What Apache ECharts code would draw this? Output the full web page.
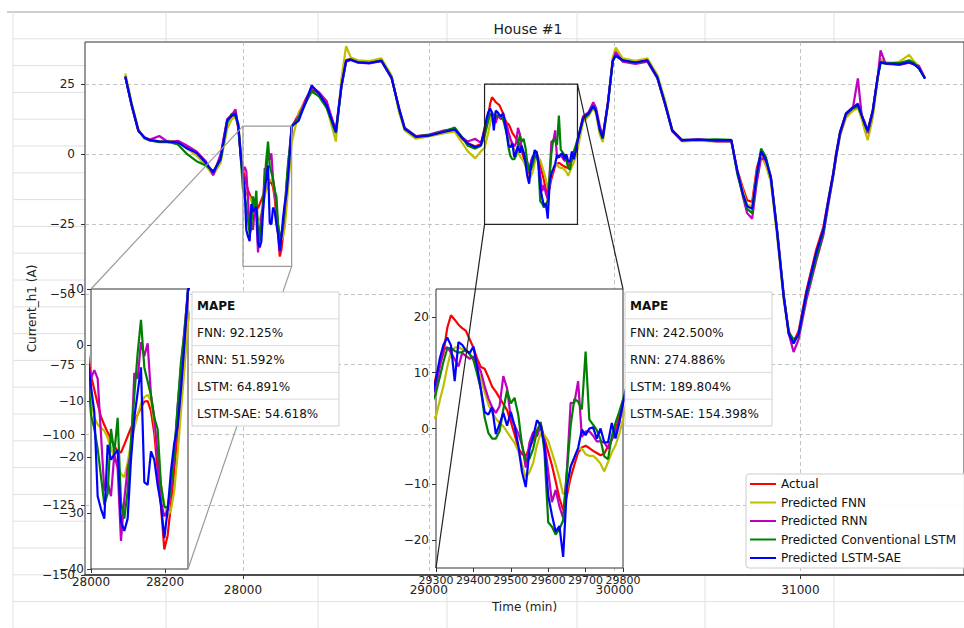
<!DOCTYPE html>
<html>
<head>
<meta charset="utf-8">
<title>House #1</title>
<script src="https://cdn.jsdelivr.net/npm/echarts@6/dist/echarts.min.js"></script>
<style>
  html, body { margin: 0; padding: 0; background: #fff; }
  #chart { width: 964px; height: 628px; }
</style>
</head>
<body>
<div id="chart"></div>
<script>
// Sample times (minutes): coarse outside the zoomed windows, denser inside them.
const minutes = [
  27367, 27400, 27437, 27470, 27500, 27550, 27600, 27650, 27700, 27750, 27800, 27840, 27880, 27915, 27940, 27960, 27975, 27990,
  28000, 28009, 28018, 28027, 28036, 28045, 28054, 28063, 28072, 28081, 28090, 28099, 28108, 28117, 28126, 28135, 28144, 28153,
  28162, 28171, 28180, 28189, 28198, 28207, 28216, 28225, 28234, 28243, 28252, 28262,
  28300, 28340, 28370, 28410, 28450, 28500, 28530, 28555, 28580, 28620, 28680, 28745, 28800, 28840, 28870, 28930, 29000, 29085,
  29140, 29180, 29210, 29250, 29280,
  29300, 29310, 29320, 29330, 29340, 29350, 29360, 29370, 29380, 29390, 29400, 29410, 29420, 29430, 29440, 29450, 29460, 29470,
  29480, 29490, 29500, 29510, 29520, 29530, 29540, 29550, 29560, 29570, 29580, 29590, 29600, 29610, 29620, 29630, 29640, 29650,
  29660, 29670, 29680, 29690, 29700, 29710, 29720, 29730, 29740, 29750, 29760, 29770, 29780, 29790, 29800,
  29830, 29860, 29885, 29900, 29920, 29936, 29963, 29990, 30006, 30043, 30112, 30176, 30230, 30272, 30310, 30362, 30450, 30550,
  30628, 30660, 30690, 30713, 30740, 30765, 30788, 30814, 30841, 30873, 30910, 30937, 30963, 30990, 31032, 31085, 31123, 31150,
  31176, 31192, 31213, 31245, 31282, 31309, 31330, 31346, 31362, 31389, 31415, 31431, 31458, 31500, 31532, 31585, 31610, 31638,
  31670
];

// Current (A) per series, aligned with `minutes`.
const actual = [
  27.9, 18, 8.6, 6, 5, 4.6, 4.5, 4.3, 2.5, 0, -3.5, -6.8, -1, 12, 13.5, 14, 9.6, -1,
  -5.5, -8, -10.5, -12.8, -14.3, -15.6, -16.8, -18, -19, -19.2, -17.8, -16.3, -14.8, -13.6, -12.4, -11.2, -10.1, -10,
  -11.8, -15.8, -22.5, -28.8, -36.5, -34, -28.5, -22.5, -15.5, -8, -1.5, 9.6,
  14.3, 20, 23, 21.8, 18, 8.6, 25, 33.6, 34, 33, 32.8, 33.6, 27.5, 16, 9, 6, 6.5, 7.9, 8.6, 5.5, 3.9, 2.8, 3.5,
  9.3, 11.5, 13.5, 18, 20.3, 19.5, 18.6, 18, 17.5, 16,
  14.5, 12.5, 11, 10.7, 9.2, 7.5, 6.6, 5.5, 4.4, 3.3,
  1.2, -1, -3.5, -4.6, -4.9, -3.5, -2, -0.3, 0.8, -1.8,
  -4.2, -6.6, -9.5, -12.5, -14.6, -12, -8.8, -6.5, -4.3, -3.4,
  -3.1, -3.5, -4, -4.4, -4.8, -4.5, -3.2, -2, -0.2, 2,
  4.6,
  12.5, 14.6, 17.5, 15.7, 9, 6, 18, 33.6, 35.4, 33.6,
  32.8, 33.6, 27.5, 18, 8.6, 5, 5.2, 4.8, 5, -5.7,
  -12, -16.4, -17, -5, 0.4, -3, -9, -27, -51, -63,
  -67, -63, -48.6, -34, -26, -16, -6.8, 0.4, 8, 14.6,
  16.8, 18, 14, 11, 8.6, 15.7, 27.5, 32.9, 32.5, 32.3,
  32.1, 32.9, 32.2, 30.7, 27
];
const predFNN = [
  28.8, 18.5, 9, 5.5, 4.8, 4.5, 4.8, 4.6, 2, -0.5, -4, -7.5, -3, 9, 12.5, 13.2, 11, 0,
  -10, -13, -14.2, -14.8, -15.3, -16.5, -18.5, -20, -21.5, -23, -23.6, -21, -17.5, -14.8, -12.5, -10.5, -9.3, -8.9,
  -10, -14, -19.5, -25, -28.5, -30.5, -29.5, -26, -19.5, -12, -4.5, 4,
  15, 19, 22, 21, 17, 4.5, 27, 38.5, 34.5, 33.5, 33.2, 34.2, 28, 15, 8.5, 5.5, 6.3, 7.5, 8, 4, 1, -1.5, 1,
  2.2, 5, 7.6, 11, 13.8, 14.5, 14.6, 14.2, 13.8, 13.5,
  12.4, 11, 8.8, 6.6, 4.3, 2.8, 1.8, 1, 0.4, -0.6,
  -1.6, -2.6, -4, -6.5, -8.8, -7.8, -6.1, -3, -0.8, -1.2,
  -2.2, -4.3, -6.5, -8.9, -11.8, -11, -7, -5.2, -3.7, -3.6,
  -4.6, -4.9, -4.9, -5.5, -6.3, -7.7, -6, -4.3, -3, -1,
  1.6,
  11.5, 13.5, 16.5, 14.5, 7, 4.3, 17, 34.5, 38, 34.2,
  33.3, 34.2, 28.3, 19, 8.2, 4.6, 4.8, 4.5, 4.6, -6.5,
  -13, -18, -18.5, -6.5, -0.5, -4, -10, -28.5, -52, -64,
  -67.5, -64, -50, -35.5, -27.5, -17.5, -8, -1, 6.5, 13,
  15.5, 16.5, 12.5, 8.5, 5, 13, 26.5, 34, 32.8, 32.5,
  33, 35.4, 33.2, 31.3, 27.3
];
const predRNN = [
  27.5, 17.5, 8.2, 6, 5.2, 6.5, 4.2, 4.8, 3, 1, -2.5, -7.5, 0, 12.5, 14, 16, 9, -2,
  -6, -4.5, -6, -16, -26, -24.5, -27, -19.5, -22, -35, -27.5, -22, -19.3, -5, -6, 0.5, -2, 0.3,
  -9, -13, -20, -28, -30.6, -29.5, -26, -20, -11, -4, 2.5, 9.8,
  13.5, 19.5, 24, 22, 19, 8, 24, 33, 33.6, 32.6, 32.4, 33.2, 27, 16.5, 9.5, 6.5, 7, 8.5, 9, 6, 4.5, 5.5, 4,
  7.6, 11, 14.1, 14.6, 13.6, 12.4, 11.1, 13.5, 13, 12.5,
  12.9, 11.6, 10.2, 7.6, 5.4, 3.8, 2.8, 4, 9.4, 7.2,
  1.8, 0.6, -0.9, -2.9, -7, -2.5, -0.6, -1.4, 0.6, -2.5,
  -7.6, -13.2, -11, -14, -16, -7.5, 4.6, 4.6, 8.5, -1.5,
  -0.5, -0.5, -1.3, -2.3, -2.3, -2.5, -3.6, -2, -0.8, 1,
  4.6,
  13.5, 15, 18.5, 16.5, 10, 6.5, 17.5, 33, 36.5, 33,
  32.2, 33, 27, 17.5, 8.2, 4.7, 5.3, 4.6, 4.6, -6,
  -15, -21, -23, -10, -1.5, -2, -8, -26, -50, -64,
  -70.5, -66, -52, -38, -29, -18, -8, -1, 7, 14,
  16.5, 27, 13.5, 11.5, 7.5, 15, 27, 37, 32.2, 32,
  31.8, 32.6, 32, 31.5, 27
];
const predLSTM = [
  27.6, 17.8, 8.4, 5.8, 4.9, 4.3, 4.4, 3.5, 0, -2.5, -4, -6, -2, 11, 14.5, 13.5, 10, -3,
  -12.5, -15, -18.5, -23.5, -28.5, -26.5, -15, -19.3, -13, -28, -31, -26, -17, -9, -1.5, 4.5, -4, -6.5,
  -9, -13, -15, -25, -28.9, -29, -25, -19, -11, -3, 2, 9.8,
  13, 18.5, 22.5, 20.5, 16.5, 7.5, 24, 33.2, 33.8, 32.8, 32.6, 33.4, 27.3, 16, 9, 6.4, 6.8, 8.2, 9.5, 6, 3, 2, 3,
  6.4, 9.2, 12, 14.3, 14.4, 13.9, 13.6, 13.7, 14.1, 13.3,
  12.3, 9.8, 7, 2, -0.8, -1.8, -1.8, -0.5, 3.4, 6.8,
  4.5, 5.5, 2.4, -3, -5.8, -5.4, -3.6, -0.5, 1.2, -4.2,
  -16.8, -17.6, -19, -18, -16.5, -7.8, 0.5, 5.3, 4.8, 3.4,
  13.8, 1.6, 0.7, -0.3, -2, -5, -5.5, -1.4, 1, 3,
  5.2,
  12.5, 14.2, 17, 15.2, 8.5, 5.5, 17.5, 33.2, 35, 33.4,
  32.6, 33.4, 27.3, 17.8, 8.4, 5.2, 5.1, 5.3, 5.1, -7,
  -14.5, -19.5, -21, -8, 2, -1, -8.5, -26.5, -50.5, -63.5,
  -66, -64.5, -50.5, -37, -28, -17, -7.5, -0.5, 7.5, 14.3,
  16.3, 17, 13.8, 10.5, 8, 15.2, 27, 32.6, 32.3, 32.6,
  32.5, 33.5, 32.6, 30.5, 27
];
const predSAE = [
  27.7, 17.9, 8.5, 5.9, 5, 4.6, 4.5, 4.2, 2, 0.5, -3, -6.5, -1.5, 12, 13.8, 14.5, 10.5, -2,
  -7.5, -12, -27, -29.3, -31, -17.8, -20.5, -19.5, -18.8, -31.5, -33.2, -31, -20.5, -13, -8.5, -4, -24.5, -25,
  -19, -20.5, -25, -28.5, -34.5, -29.5, -22.5, -17.5, -14.5, -8, 0, 10,
  12, 19, 24.5, 21.5, 17.5, 8, 24.5, 33.3, 33.7, 32.7, 32.5, 33.3, 27.2, 16.2, 9.2, 6.2, 6.6, 8, 8.8, 5.8, 3.8, 2.5, 3.2,
  8.8, 12.5, 15, 16.3, 14.9, 8.5, 15.5, 15, 14, 13.5,
  14.7, 11, 7, 3, 2.5, 3.8, -1, 0.8, 2.8, 0.5,
  3, 0.5, -3, -7.8, -10.5, -3.8, -1.4, 1.5, 0.5, -3,
  -12, -15.5, -18.5, -17.5, -23, -10.5, -6.8, -5.2, -3.5, -0.2,
  -1.2, 0, 0.2, -1.8, 0, -2.5, -2.5, 1, -1.8, 1,
  4.6,
  12.8, 14.6, 17.2, 15.5, 8.8, 5.8, 17.8, 33.4, 35.2, 33.5,
  32.7, 33.5, 27.4, 17.9, 8.5, 5, 5.2, 4.9, 5, -6,
  -14, -18.5, -19.5, -7, 1, -2, -8.5, -27, -51, -64,
  -67.5, -64, -49.5, -35, -27, -16.5, -7, 0, 7.8, 14.5,
  16.6, 17.8, 13.8, 10.8, 8.4, 15.5, 27.3, 32.8, 32.4, 32.2,
  32, 32.8, 32.1, 30.6, 27
];

const seriesNames = ['Actual', 'Predicted FNN', 'Predicted RNN', 'Predicted Conventional LSTM', 'Predicted LSTM-SAE'];
const seriesColors = ['#ff0000', '#bfbf00', '#bf00bf', '#008000', '#0000ff'];

// Tick positions
const mainXTicks = [28000, 29000, 30000, 31000];
const mainYTicks = [-150, -125, -100, -75, -50, -25, 0, 25];
const zoomAXTicks = [28000, 28200];
const zoomAYTicks = [-40, -30, -20, -10, 0, 10];
const zoomBXTicks = [29300, 29400, 29500, 29600, 29700, 29800];
const zoomBYTicks = [-20, -10, 0, 10, 20];

// Zoomed windows (time range, current range)
const zoomAWindow = { x: [28000, 28262], y: [-40, 10] };
const zoomBWindow = { x: [29300, 29800], y: [-25, 25] };

// MAPE per model inside each window
const mapeModels = ['FNN', 'RNN', 'LSTM', 'LSTM-SAE'];
const mapeWindowA = [92.125, 51.592, 64.891, 54.618];
const mapeWindowB = [242.500, 274.886, 189.804, 154.398];

const FONT = '"DejaVu Sans", sans-serif';
const TEXT = '#222';
const signed = v => String(v).replace('-', '\u2212');

function valueAxis(gridIndex, min, max, ticks, margin, z, extra, labelSize) {
  return Object.assign({
    type: 'value', gridIndex, min, max, z,
    axisLine: { show: false, onZero: false },
    axisTick: { show: true, customValues: ticks, length: 4, lineStyle: { color: '#333', width: 1 } },
    axisLabel: {
      customValues: ticks, interval: 0, margin, formatter: signed, showMinLabel: true, showMaxLabel: true,
      hideOverlap: false, fontFamily: FONT, fontSize: labelSize || 12, color: TEXT
    },
    splitLine: { show: false }
  }, extra || {});
}

const gridDash = { show: true, lineStyle: { type: [4, 3], color: '#b4b4b4', width: 0.8 } };

const xAxes = [
  valueAxis(0, 27150, 31880, mainXTicks, 9, 1, {
    axisLine: { show: true, onZero: false, lineStyle: { color: '#333', width: 1.5 } },
    splitLine: gridDash,
    name: 'Time (min)', nameLocation: 'middle', nameGap: 26, nameMoveOverlap: false,
    nameTextStyle: { fontFamily: FONT, fontSize: 12, color: TEXT }
  }),
  valueAxis(1, zoomAWindow.x[0], zoomAWindow.x[1], zoomAXTicks, 7, 6),
  valueAxis(2, zoomBWindow.x[0], zoomBWindow.x[1], zoomBXTicks, 7, 6, null, 11)
];
const yAxes = [
  valueAxis(0, -150, 40, mainYTicks, 10, 1, {
    splitLine: gridDash,
    name: 'Current_h1 (A)', nameLocation: 'middle', nameGap: 47, nameRotate: 90, nameMoveOverlap: false,
    nameTextStyle: { fontFamily: FONT, fontSize: 12, color: TEXT }
  }),
  valueAxis(1, zoomAWindow.y[0], zoomAWindow.y[1], zoomAYTicks, 7, 6),
  valueAxis(2, zoomBWindow.y[0], zoomBWindow.y[1], zoomBYTicks, 7, 6)
];

const seriesValues = [actual, predFNN, predRNN, predLSTM, predSAE];
const series = [];
[0, 1, 2].forEach(g => {
  seriesValues.forEach((vals, k) => {
    series.push({
      type: 'line', name: seriesNames[k], xAxisIndex: g, yAxisIndex: g,
      data: minutes.map((t, i) => [t, vals[i]]),
      symbol: 'none', showSymbol: false, clip: true, silent: true, animation: false,
      lineStyle: { color: seriesColors[k], width: 2.2 },
      itemStyle: { color: seriesColors[k] },
      z: g === 0 ? 2 : 6
    });
  });
});

// Worksheet cell lines behind the figure
const sheetEls = [];
const sheetCols = [13, 166, 318, 447, 577, 705, 834];
for (let k = 0; k < 24; k++) {
  const y = 12 + 26.8 * k;
  sheetEls.push({ type: 'line', z: -10, silent: true,
    shape: { x1: k === 0 ? 7 : 13, y1: y, x2: 964, y2: y },
    style: { stroke: k === 0 ? '#cfcfcf' : '#e0e0e0', lineWidth: k === 0 ? 2 : 1 } });
}
sheetCols.forEach(x => sheetEls.push({ type: 'line', z: -10, silent: true,
  shape: { x1: x, y1: 12, x2: x, y2: 628 }, style: { stroke: '#e0e0e0', lineWidth: 1 } }));

function mapeTable(x, y, values) {
  const rowH = 26.8, w = 147;
  const rows = ['MAPE'].concat(mapeModels.map((m, i) => m + ': ' + values[i].toFixed(3) + '%'));
  const els = [{ type: 'rect', z: 20, silent: true,
    shape: { x, y, width: w, height: rowH * rows.length },
    style: { fill: '#fff', stroke: '#cfcfcf', lineWidth: 1 } }];
  rows.forEach((t, i) => {
    if (i > 0) {
      els.push({ type: 'line', z: 21, silent: true,
        shape: { x1: x, y1: y + rowH * i, x2: x + w, y2: y + rowH * i },
        style: { stroke: '#dadada', lineWidth: 1 } });
    }
    els.push({ type: 'text', z: 22, silent: true, x: x + 5, y: y + rowH * (i + 0.5) + 1,
      style: { text: t, fontFamily: FONT, fontSize: 12, fontWeight: i === 0 ? 'bold' : 'normal',
        fill: '#111', textVerticalAlign: 'middle', verticalAlign: 'middle' } });
  });
  return els;
}

const baseGraphics = sheetEls.concat(
  [{ type: 'text', z: 1, silent: true, x: 528, y: 29,
     style: { text: 'House #1', fontFamily: FONT, fontSize: 14, fill: TEXT,
       textAlign: 'center', align: 'center', textVerticalAlign: 'middle', verticalAlign: 'middle' } }],
  mapeTable(192, 292, mapeWindowA),
  mapeTable(625, 292, mapeWindowB)
);

const option = {
  backgroundColor: '#fff',
  animation: false,
  grid: [
    { left: 85, top: 42, width: 886, height: 533, show: true, backgroundColor: '#fff', borderColor: '#333', borderWidth: 1, z: 0 },
    { left: 91, top: 289, width: 97, height: 280, show: true, backgroundColor: '#fff', borderColor: '#333', borderWidth: 1, z: 5 },
    { left: 436, top: 289, width: 187, height: 279, show: true, backgroundColor: '#fff', borderColor: '#333', borderWidth: 1, z: 5 }
  ],
  xAxis: xAxes,
  yAxis: yAxes,
  legend: {
    data: seriesNames, orient: 'vertical', left: 746, top: 474,
    icon: 'rect', itemWidth: 26, itemHeight: 2, itemGap: 6.5, padding: [4, 14, 4, 4],
    backgroundColor: 'rgba(255,255,255,0.9)', borderColor: '#cccccc', borderWidth: 1, borderRadius: 3,
    textStyle: { fontFamily: FONT, fontSize: 12, color: '#111' },
    selectedMode: false, z: 30
  },
  graphic: { elements: baseGraphics },
  series
};

const chart = echarts.init(document.getElementById('chart'), null, { renderer: 'svg' });
chart.setOption(option);

// Outline each zoomed window on the main axes and link it to its inset.
function windowMarks(win, insetGrid, color, corners) {
  const main = (x, y) => chart.convertToPixel({ gridIndex: 0 }, [x, y]);
  const inset = (x, y) => chart.convertToPixel({ gridIndex: insetGrid }, [x, y]);
  const tl = main(win.x[0], win.y[1]), br = main(win.x[1], win.y[0]);
  const els = [{ type: 'rect', z: 8, silent: true,
    shape: { x: tl[0], y: tl[1], width: br[0] - tl[0], height: br[1] - tl[1] },
    style: { fill: 'none', stroke: color, lineWidth: 1.2 } }];
  corners.forEach(([cx, cy]) => {
    const a = main(win.x[cx], win.y[cy]);
    const b = inset(win.x[cx], win.y[cy]);
    els.push({ type: 'line', z: 8, silent: true,
      shape: { x1: a[0], y1: a[1], x2: b[0], y2: b[1] },
      style: { stroke: color, lineWidth: 1.2 } });
  });
  return els;
}

const linkEls = windowMarks(zoomAWindow, 1, '#9a9a9a', [[0, 1], [1, 0]])
  .concat(windowMarks(zoomBWindow, 2, '#222222', [[0, 0], [1, 1]]));
option.graphic = { elements: baseGraphics.concat(linkEls) };
chart.setOption(option, true);
</script>
</body>
</html>
